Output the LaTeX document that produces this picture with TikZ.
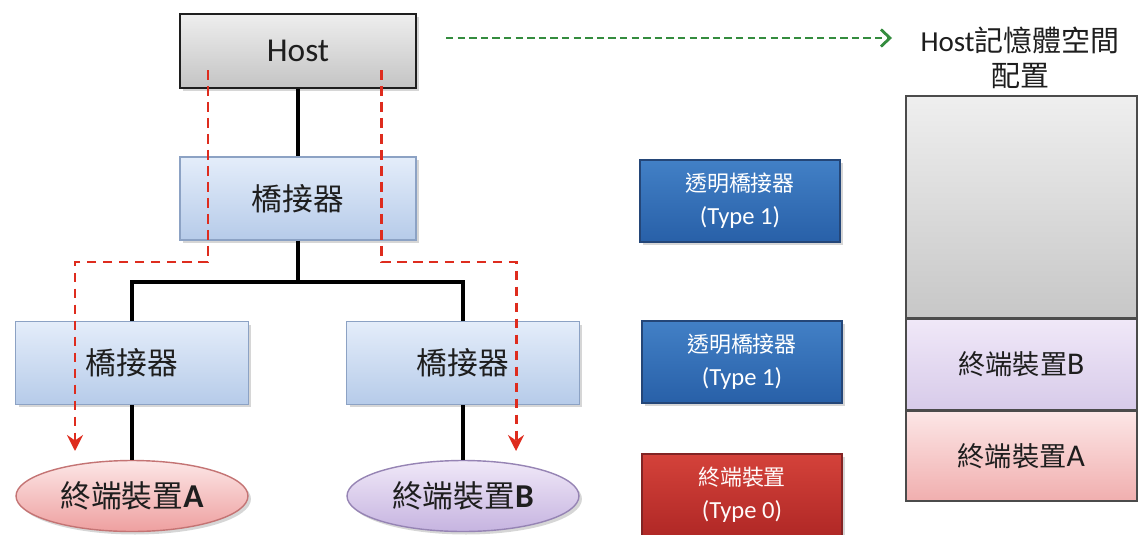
\documentclass[tikz,border=0pt]{standalone}
\usepackage{fontspec}
\setmainfont{Carlito}
\newfontfamily\cjk{Noto Sans CJK TC}
\usetikzlibrary{shapes.geometric,shadows,arrows.meta,calc}
\definecolor{hostT}{RGB}{238,238,238}
\definecolor{hostB}{RGB}{196,196,196}
\definecolor{brT}{RGB}{228,237,250}
\definecolor{brB}{RGB}{182,203,233}
\definecolor{brD}{RGB}{140,162,196}
\definecolor{lbT}{RGB}{66,128,198}
\definecolor{lbB}{RGB}{40,96,168}
\definecolor{lbD}{RGB}{36,70,120}
\definecolor{lrT}{RGB}{212,66,58}
\definecolor{lrB}{RGB}{176,40,38}
\definecolor{lrD}{RGB}{130,36,36}
\definecolor{pkT}{RGB}{252,230,230}
\definecolor{pkB}{RGB}{238,160,160}
\definecolor{pkD}{RGB}{196,116,116}
\definecolor{lvT}{RGB}{240,232,248}
\definecolor{lvB}{RGB}{198,180,224}
\definecolor{lvD}{RGB}{150,132,180}
\definecolor{rd}{RGB}{222,44,30}
\definecolor{gn}{RGB}{52,140,62}
\definecolor{ink}{RGB}{30,30,30}
\tikzset{
  shad/.style={drop shadow={shadow xshift=0.6mm,shadow yshift=-0.6mm,fill=black!35,opacity=0.45}},
  hostbox/.style={rectangle,draw=ink,line width=1.5pt,top color=hostT,bottom color=hostB,minimum width=4.72cm,minimum height=1.48cm,inner sep=0pt,shad},
  brbox/.style={rectangle,draw=brD,line width=0.7pt,top color=brT,bottom color=brB,minimum height=1.66cm,inner sep=0pt,shad},
  legblue/.style={rectangle,draw=lbD,line width=0.7pt,top color=lbT,bottom color=lbB,minimum width=4cm,minimum height=1.64cm,inner sep=0pt,text=white,align=center,font=\fontsize{14}{19}\selectfont,shad},
  legred/.style={rectangle,draw=lrD,line width=0.7pt,top color=lrT,bottom color=lrB,minimum width=4cm,minimum height=1.64cm,inner sep=0pt,text=white!92!pink,align=center,font=\fontsize{14}{19}\selectfont,shad},
  devA/.style={ellipse,draw=pkD,line width=0.8pt,top color=pkT,bottom color=pkB,minimum width=4.64cm,minimum height=1.42cm,inner sep=0pt,shad},
  devB/.style={ellipse,draw=lvD,line width=0.8pt,top color=lvT,bottom color=lvB,minimum width=4.64cm,minimum height=1.42cm,inner sep=0pt,shad},
  memseg/.style={rectangle,draw=ink!80,line width=1pt,minimum width=4.62cm,inner sep=0pt},
  tree/.style={draw=black,line width=2pt},
  reddash/.style={draw=rd,line width=1.7pt,dash pattern=on 5.5pt off 3.6pt,-{Stealth[length=3.2mm,width=3.2mm,inset=1.1mm]}},
  greendash/.style={draw=gn,line width=1.3pt,dash pattern=on 4.2pt off 2.4pt,-{Straight Barb[length=1.8mm,width=3.4mm,line width=1.6pt]}},
  cjkbig/.style={font=\cjk\fontsize{17.5}{20}\selectfont,text=ink},
  cjkmid/.style={font=\cjk\fontsize{15.5}{18}\selectfont,text=ink},
}
\begin{document}
\begin{tikzpicture}[x=0.02cm,y=-0.02cm]
\useasboundingbox (0,0) rectangle (1138,534);
\fill[white] (0,0) rectangle (1138,534);
% memory column
\node[memseg,minimum height=4.44cm,top color=hostT!95!white,bottom color=hostB!95!white,anchor=north west] (memgray) at (905,95) {};
\node[memseg,minimum height=1.8cm,top color=lvT,bottom color=lvB!70!white,anchor=north west] (memB) at (memgray.south west) {};
\node[memseg,minimum height=1.8cm,top color=pkT,bottom color=pkB!85!white,anchor=north west] (memA) at (memB.south west) {};
\node[cjkmid] at (memB.center) {終端裝置{\rmfamily\fontsize{18}{20}\selectfont B}};
\node[cjkmid] at (memA.center) {終端裝置{\rmfamily\fontsize{18}{20}\selectfont A}};
\node[font=\fontsize{16.5}{20}\selectfont,text=ink,align=center] (memtitle) at (1020,58) {Host{\cjk 記憶體空間}\\[0pt]{\cjk 配置}};
% tree
\node[hostbox] (host) at (298,51) {};
\node[font=\fontsize{19}{22}\selectfont,text=ink] at (host.center) {Host};
\node[brbox,minimum width=4.72cm] (br0) at (298,198.5) {};
\node[cjkbig] at (br0.center) {橋接器};
\node[brbox,minimum width=4.66cm] (br1) at (132,363) {};
\node[cjkbig] at (br1.center) {橋接器};
\node[brbox,minimum width=4.66cm] (br2) at (463,363) {};
\node[cjkbig] at (br2.center) {橋接器};
\node[devA] (devA) at (132,496) {};
\node[cjkbig] at (devA.center) {終端裝置{\rmfamily\bfseries\fontsize{19}{22}\selectfont A}};
\node[devB] (devB) at (463,496) {};
\node[cjkbig] at (devB.center) {終端裝置{\rmfamily\bfseries\fontsize{19}{22}\selectfont B}};
% tree lines
\coordinate (split) at (298,282);
\draw[tree] (host.south) -- (br0.north);
\draw[tree] (br0.south) -- (split);
\draw[tree] (br1.north) -- (br1.north |- split) -- (br2.north |- split) -- (br2.north);
\draw[tree] (br1.south) -- (devA.north);
\draw[tree] (br2.south) -- (devB.north);
% legend
\node[legblue] (leg1) at (740,201) {{\cjk\fontsize{12.5}{15}\selectfont 透明橋接器}\\(Type 1)};
\node[legblue] (leg2) at (742,362) {{\cjk\fontsize{12.5}{15}\selectfont 透明橋接器}\\(Type 1)};
\node[legred] (leg3) at (742,495) {{\cjk\fontsize{12.5}{15}\selectfont 終端裝置}\\(Type 0)};
% red dashed routes
\coordinate (rl) at (208,70);
\coordinate (rr) at (381,70);
\coordinate (ra) at (75,451);
\coordinate (rb) at (516,451);
\draw[reddash] (rl) -- (208,262) -- (75,262) -- (ra);
\draw[reddash] (rr) -- (381,262) -- (516,262) -- (rb);
% green dashed arrow
\coordinate (g1) at (446,38);
\coordinate (g2) at (892,38);
\draw[greendash] (g1) -- (g2);
\end{tikzpicture}
\end{document}
